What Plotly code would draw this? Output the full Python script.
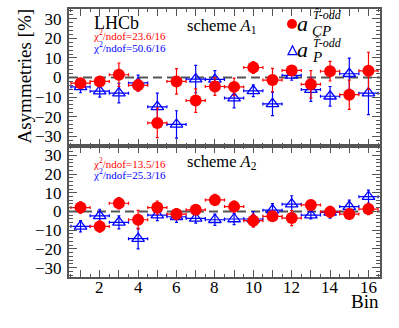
import plotly.graph_objects as go

bins = list(range(1, 17))
bin_halfwidth = [0.5] * 16
bin_labels = [str(b) for b in bins if b % 2 == 0]
bin_label_pos = [b for b in bins if b % 2 == 0]

# scheme A1
cp_a1 = [-2.9, -2.0, 1.4, -4.0, -23.2, -2.0, -11.8, -4.6, -4.8, 5.1, -1.3, 3.6, -3.5, 3.2, -8.8, 3.4]
cp_a1_err = [2.5, 2.5, 6.0, 3.0, 7.5, 6.5, 6.0, 4.5, 4.5, 3.0, 6.0, 2.5, 7.0, 5.0, 7.5, 9.5]
p_a1 = [-4.8, -7.0, -8.0, -2.8, -15.0, -24.0, -0.8, -1.0, -10.5, -6.8, -13.5, 1.1, -6.2, -9.6, 1.9, -8.0]
p_a1_err = [3.0, 3.0, 5.0, 4.0, 7.0, 7.0, 7.0, 4.5, 5.0, 3.0, 6.0, 2.5, 6.0, 5.0, 8.0, 11.0]

# scheme A2
cp_a2 = [2.1, -8.0, 4.4, -4.4, 2.1, -1.4, 0.9, 6.2, 2.6, -4.9, -2.6, -3.5, 3.5, -0.2, -1.4, 1.3]
cp_a2_err = [3.0, 3.0, 3.0, 5.0, 3.5, 3.0, 2.5, 3.0, 3.0, 3.5, 2.5, 4.0, 2.5, 3.0, 2.5, 3.0]
p_a2 = [-7.9, -2.3, -5.8, -14.5, -1.9, -2.8, -3.7, -4.4, -4.0, -4.0, 0.7, 3.9, -1.9, -0.5, 2.6, 7.9]
p_a2_err = [3.0, 3.5, 3.5, 5.5, 3.0, 3.0, 2.5, 3.0, 3.0, 4.0, 3.5, 4.5, 2.0, 3.0, 3.5, 3.5]

chi2_labels = [("χ<sup>2</sup>/ndof=23.6/16", "χ<sup>2</sup>/ndof=50.6/16"),
               ("χ<sup>2</sup>/ndof=13.5/16", "χ<sup>2</sup>/ndof=25.3/16")]

RED = "#ff0000"
BLUE = "#0000ff"
GRAY = "#555555"
FONT = "Liberation Serif"

W, H = 399, 328
L, R, T, B = 69, 380, 7, 277


def px(x, y):
    return (x - L) / (R - L), (B - y) / (B - T)


fig = go.Figure()

panels = [(cp_a1, cp_a1_err, p_a1, p_a1_err, "x", "y"),
          (cp_a2, cp_a2_err, p_a2, p_a2_err, "x2", "y2")]
for cp, cpe, p, pe, xa, ya in panels:
    fig.add_trace(go.Scatter(
        x=bins, y=p, mode="markers", xaxis=xa, yaxis=ya,
        marker=dict(symbol="triangle-up-open", size=11, color=BLUE, line=dict(width=1.3)),
        error_x=dict(type="data", array=bin_halfwidth, color=BLUE, thickness=1.2, width=1.5),
        error_y=dict(type="data", array=pe, color=BLUE, thickness=1.2, width=1.5),
        showlegend=False))
    fig.add_trace(go.Scatter(
        x=bins, y=cp, mode="markers", xaxis=xa, yaxis=ya,
        marker=dict(symbol="circle", size=12, color=RED),
        error_x=dict(type="data", array=bin_halfwidth, color=RED, thickness=1.2, width=1.5),
        error_y=dict(type="data", array=cpe, color=RED, thickness=1.2, width=1.5),
        showlegend=False))
    fig.add_hline(y=0, line=dict(color=GRAY, width=2, dash="9px,5px"), xref=xa, yref=ya, layer="below")

split = (B - 145) / (B - T)

axis_common = dict(
    showline=True, linecolor=GRAY, linewidth=2, mirror="allticks",
    ticks="inside", tickcolor=GRAY, tickwidth=1, showgrid=False, zeroline=False,
    tickfont=dict(family=FONT, size=17, color="black"),
)

xaxis_common = dict(axis_common, range=[0.4, 16.6], tickmode="array", tickvals=bins, ticklen=7,
                    showticklabels=False,
                    minor=dict(ticks="inside", dtick=0.5, tick0=0.5, ticklen=3, tickcolor=GRAY))
yaxis_common = dict(axis_common, range=[-35, 35], dtick=10, ticklen=8, ticklabelstandoff=2,
                    minor=dict(ticks="inside", dtick=2, ticklen=4, tickcolor=GRAY))

fig.update_layout(
    width=W, height=H,
    margin=dict(l=L, r=W - R, t=T, b=H - B),
    plot_bgcolor="white", paper_bgcolor="white",
    hovermode=False,
    xaxis=dict(xaxis_common, anchor="y", matches="x2"),
    yaxis=dict(yaxis_common, domain=[split, 1], anchor="x"),
    xaxis2=dict(xaxis_common, anchor="y2"),
    yaxis2=dict(yaxis_common, domain=[0, split], anchor="x2"),
)


def note(text, x, y, size, color="black", xanchor="left", **kw):
    ax, ay = px(x, y)
    fig.add_annotation(text=text, x=ax, y=ay, xref="paper", yref="paper", showarrow=False,
                       xanchor=xanchor, yanchor="middle",
                       font=dict(family=FONT, size=size, color=color), **kw)


# x tick labels placed right under the frame, ROOT style
label_y = px(0, 288)[1]
for pos, lab in zip(bin_label_pos, bin_labels):
    fig.add_annotation(text=lab, x=pos, y=label_y, xref="x2", yref="paper", showarrow=False,
                       xanchor="center", yanchor="middle", font=dict(family=FONT, size=17, color="black"))

note("LHCb", 92, 21, 18)
note(chi2_labels[0][0], 91, 33, 11, RED)
note(chi2_labels[0][1], 91, 45, 11, BLUE)
note("scheme <i>A</i><sub>1</sub>", 185, 24, 16.5)
note(chi2_labels[1][0], 91, 162, 11, RED)
note(chi2_labels[1][1], 91, 173, 11, BLUE)
note("scheme <i>A</i><sub>2</sub>", 185, 161, 16.5)
note("Bin", 381, 302, 19, xanchor="right")
note("Asymmetries [%]", 24, 75, 19, xanchor="center", textangle=-90)

# legend
cx, cy = px(292, 22)
rx, ry = 5 / (R - L), 5 / (B - T)
fig.add_shape(type="circle", xref="paper", yref="paper", x0=cx - rx, x1=cx + rx, y0=cy - ry, y1=cy + ry,
              fillcolor=RED, line=dict(color=RED, width=0))
t0 = px(288, 53)
t1 = px(297, 53)
t2 = px(292.5, 44)
fig.add_shape(type="path", xref="paper", yref="paper",
              path=f"M {t0[0]} {t0[1]} L {t1[0]} {t1[1]} L {t2[0]} {t2[1]} Z",
              line=dict(color=BLUE, width=1.2))

that = "T\u0302"
note("<i>a</i>", 295, 22, 22)
note(f"<i>{that}-odd</i>", 311, 13, 12)
note("<i>CP</i>", 310, 29, 15)
note("<i>a</i>", 295, 48, 22)
note(f"<i>{that}-odd</i>", 311, 41, 12)
note("<i>P</i>", 310, 55, 15)

# drop the default page margin so the figure sits at the window corner
fig.write_html("out.html", config={"displayModeBar": False},
               post_script="document.body.style.margin='0';")
